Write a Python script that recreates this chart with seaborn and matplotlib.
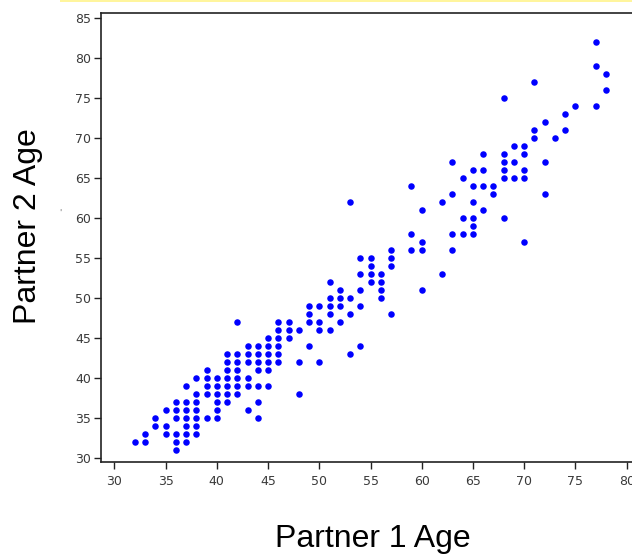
import matplotlib
matplotlib.use("Agg")
import matplotlib.pyplot as plt
import seaborn as sns
import pandas as pd
from matplotlib.patches import Rectangle

# ---- data ----
partner1_age = (
    [32]
    + [33] * 2
    + [34] * 2
    + [35] * 3
    + [36] * 6
    + [37] * 7
    + [38] * 7
    + [39] * 5
    + [40] * 6
    + [41] * 7
    + [42] * 7
    + [43] * 6
    + [44] * 7
    + [45] * 6
    + [46] * 6
    + [47] * 3
    + [48] * 3
    + [49] * 4
    + [50] * 4
    + [51] * 5
    + [52] * 4
    + [53] * 4
    + [54] * 5
    + [55] * 4
    + [56] * 4
    + [57] * 4
    + [59] * 3
    + [60] * 4
    + [62] * 2
    + [63] * 4
    + [64] * 3
    + [65] * 6
    + [66] * 4
    + [67] * 2
    + [68] * 6
    + [69] * 3
    + [70] * 5
    + [71] * 3
    + [72] * 3
    + [73]
    + [74] * 2
    + [75]
    + [77] * 3
    + [78] * 2
)
partner2_age = [
    32,
    33, 32,
    35, 34,
    36, 34, 33,
    37, 36, 35, 33, 32, 31,
    39, 37, 36, 35, 34, 33, 32,
    40, 38, 37, 36, 35, 34, 33,
    41, 40, 39, 38, 35,
    40, 39, 38, 37, 36, 35,
    43, 42, 41, 40, 39, 38, 37,
    47, 43, 42, 41, 40, 39, 38,
    44, 43, 42, 40, 39, 36,
    44, 43, 42, 41, 39, 37, 35,
    45, 44, 43, 42, 41, 39,
    47, 46, 45, 44, 43, 42,
    47, 46, 45,
    46, 42, 38,
    49, 48, 47, 44,
    49, 47, 46, 42,
    52, 50, 49, 48, 46,
    51, 50, 49, 47,
    62, 50, 48, 43,
    55, 53, 51, 49, 44,
    55, 54, 53, 52,
    53, 52, 51, 50,
    56, 55, 54, 48,
    64, 58, 56,
    61, 57, 56, 51,
    62, 53,
    67, 63, 58, 56,
    65, 60, 58,
    66, 64, 62, 60, 59, 58,
    68, 66, 64, 61,
    64, 63,
    75, 68, 67, 66, 65, 60,
    69, 67, 65,
    69, 68, 66, 65, 57,
    77, 71, 70,
    72, 67, 63,
    70,
    73, 71,
    74,
    82, 79, 74,
    78, 76,
]
x_ticks = [30, 35, 40, 45, 50, 55, 60, 65, 70, 75, 80]
y_ticks = [30, 35, 40, 45, 50, 55, 60, 65, 70, 75, 80, 85]
x_label = "Partner 1 Age"
y_label = "Partner 2 Age"

df = pd.DataFrame({x_label: partner1_age, y_label: partner2_age})

sns.set_style("white")
plt.rcParams["font.family"] = ["DejaVu Sans"]

W, H = 632, 554
fig = plt.figure(figsize=(W / 100, H / 100), dpi=100)
ax = fig.add_axes([101 / W, (H - 462.3) / H, (640 - 101) / W, (462.3 - 13.3) / H])

sns.scatterplot(data=df, x=x_label, y=y_label, ax=ax, color="#0000FF",
                s=22, linewidth=0, legend=False)

ax.set_xlim(28.7, 81.3)
ax.set_ylim(29.42, 85.63)
ax.set_xticks(x_ticks)
ax.set_yticks(y_ticks)
ax.tick_params(axis="both", which="major", direction="out", length=5, width=1,
               color="#222222", labelsize=9, labelcolor="#3a3a3a",
               bottom=True, left=True)
ax.tick_params(axis="y", pad=2)
ax.tick_params(axis="x", pad=4)

for side in ["left", "top", "bottom", "right"]:
    ax.spines[side].set_visible(True)
    ax.spines[side].set_color("#222222")
    ax.spines[side].set_linewidth(1.2)

ax.set_xlabel(x_label, fontsize=23, family="Liberation Sans", color="black")
ax.set_ylabel(y_label, fontsize=23, family="Liberation Sans", color="black")
ax.xaxis.set_label_coords(0.5037, -0.137)
ax.yaxis.set_label_coords(-0.108, 0.526)

# faint yellow strip at the very top and small mark near the y label
fig.patches.append(Rectangle((60 / W, (H - 2) / H), 1 - 60 / W, 2 / H,
                             transform=fig.transFigure, facecolor="#FFF59D",
                             edgecolor="none"))
fig.text(60 / W, 1 - 213 / H, "'", fontsize=6, color="#777777",
         ha="center", va="center")

fig.savefig("out.png", dpi=100)
